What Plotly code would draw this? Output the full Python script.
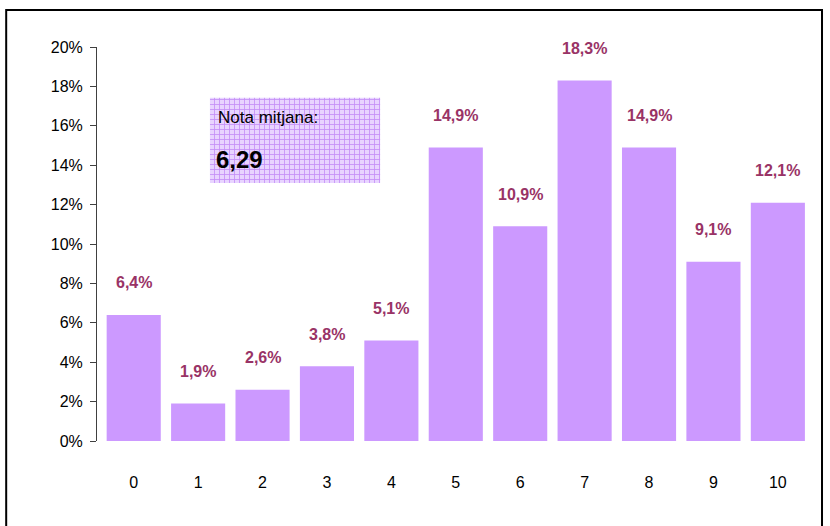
import plotly.graph_objects as go

categories = ["0", "1", "2", "3", "4", "5", "6", "7", "8", "9", "10"]
values = [6.4, 1.9, 2.6, 3.8, 5.1, 14.9, 10.9, 18.3, 14.9, 9.1, 12.1]
y_ticks = [0, 2, 4, 6, 8, 10, 12, 14, 16, 18, 20]
y_tick_labels = [f"{v}%" for v in y_ticks]
mean_label = "Nota mitjana:"
mean_value = "6,29"

FONT = "Liberation Sans Narrow, Arial Narrow, Liberation Sans, Arial, sans-serif"
LABEL_COLOR = "#993366"

fig = go.Figure()
fig.add_trace(go.Bar(
    x=list(range(len(categories))), y=values,
    marker=dict(color="#CC99FF", line=dict(width=0)),
    width=0.84, hoverinfo="skip",
))

# mean box with grid pattern (overlay paper-like axes)
box_x0, box_x1, box_y0, box_y1 = 0.158, 0.396, 0.655, 0.871
fig.add_trace(go.Bar(
    x=[(box_x0 + box_x1) / 2], y=[box_y1 - box_y0], base=[box_y0],
    width=[box_x1 - box_x0], xaxis="x2", yaxis="y2",
    marker=dict(color="#E6D0FF", line=dict(width=0),
                pattern=dict(shape="+", fgcolor="#C48EF6", bgcolor="#E8D4FF",
                             size=5, solidity=0.3, fillmode="replace")),
    hoverinfo="skip",
))

for i, v in enumerate(values):
    fig.add_annotation(
        x=i, y=v, xref="x", yref="y",
        text=f"<b>{str(v).replace('.', ',')}%</b>",
        showarrow=False, yanchor="middle", yshift=32,
        font=dict(family=FONT, size=16, color=LABEL_COLOR),
    )

# outer border
fig.add_shape(type="rect", xref="paper", yref="paper",
              x0=-0.127, x1=1.014, y0=-0.25, y1=1.094,
              line=dict(color="black", width=2), fillcolor="rgba(0,0,0,0)", layer="below")

fig.add_annotation(xref="paper", yref="paper", x=0.166, y=0.82, xanchor="left", yanchor="middle",
                   text=mean_label, showarrow=False,
                   font=dict(family=FONT, size=17, color="black"))
fig.add_annotation(xref="paper", yref="paper", x=0.164, y=0.715, xanchor="left", yanchor="middle",
                   text=f"<b>{mean_value}</b>", showarrow=False,
                   font=dict(family=FONT, size=24, color="black"))

fig.update_layout(
    width=830, height=526,
    margin=dict(l=97, r=18, t=47, b=85),
    paper_bgcolor="white", plot_bgcolor="white",
    showlegend=False,
    font=dict(family=FONT, size=16, color="black"),
    bargap=0.16,
    xaxis=dict(
        range=[-0.57, 10.53],
        tickmode="array",
        tickvals=list(range(len(categories))), ticktext=categories,
        showline=False, showgrid=False, zeroline=False, ticks="",
        ticklabelstandoff=30,
        tickfont=dict(family=FONT, size=16, color="black"),
    ),
    yaxis=dict(
        range=[0, 20],
        tickmode="array",
        tickvals=y_ticks, ticktext=y_tick_labels,
        showline=True, linecolor="#404040", linewidth=1,
        ticks="outside", ticklen=6, tickcolor="#404040",
        ticklabelstandoff=4,
        showgrid=False, zeroline=False,
        tickfont=dict(family=FONT, size=16, color="black"),
    ),
    xaxis2=dict(overlaying="x", range=[0, 1], visible=False, fixedrange=True),
    yaxis2=dict(overlaying="y", range=[0, 1], visible=False, fixedrange=True),
)

fig.write_html("out.html", config={"displayModeBar": False},
               post_script="document.body.style.margin='0';document.body.style.overflow='hidden';")
